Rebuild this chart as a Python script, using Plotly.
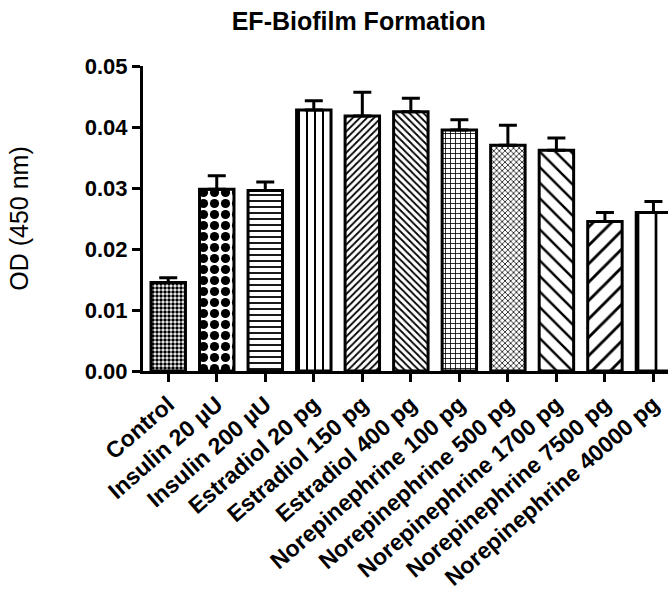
import plotly.graph_objects as go

categories = ["Control", "Insulin 20 µU", "Insulin 200 µU", "Estradiol 20 pg",
              "Estradiol 150 pg", "Estradiol 400 pg", "Norepinephrine 100 pg",
              "Norepinephrine 500 pg", "Norepinephrine 1700 pg",
              "Norepinephrine 7500 pg", "Norepinephrine 40000 pg"]
means = [0.0145, 0.0298, 0.0296, 0.0428, 0.0418, 0.0425, 0.0395, 0.0370, 0.0362, 0.0245, 0.0260]
sems = [0.0008, 0.0022, 0.0014, 0.0015, 0.0039, 0.0022, 0.0017, 0.0033, 0.0020, 0.0015, 0.0018]
y_ticks = [0.00, 0.01, 0.02, 0.03, 0.04, 0.05]

# styles
pat_shape = [".", ".", "-", "|", "/", "\\", "+", "x", "\\", "/", "|"]
pat_size = [4, 11, 6, 8, 5, 5, 5, 4, 11, 13, 18]
pat_solid = [0.6, 0.55, 0.3, 0.25, 0.35, 0.35, 0.3, 0.35, 0.22, 0.22, 0.15]

FONT = "Liberation Sans, Arial, sans-serif"

fig = go.Figure()
fig.add_trace(go.Bar(
    x=list(range(len(categories))),
    y=means,
    width=0.71,
    marker=dict(
        color="white",
        line=dict(color="black", width=3),
        pattern=dict(shape=pat_shape, size=pat_size, solidity=pat_solid,
                     fgcolor="black", fgopacity=1, bgcolor="white", fillmode="overlay"),
    ),
    error_y=dict(type="data", symmetric=False, array=sems,
                 arrayminus=[0] * len(sems), color="black", thickness=3, width=9),
    showlegend=False,
))

fig.update_layout(
    width=668, height=602,
    margin=dict(l=143, r=0, t=66, b=231),
    paper_bgcolor="white", plot_bgcolor="white",
    font=dict(family=FONT, color="black"),
    title=dict(text="<b>EF-Biofilm Formation</b>", font=dict(size=25, family=FONT),
               xref="paper", x=0.411, xanchor="center",
               yref="container", y=0.965, yanchor="middle"),
)
fig.update_xaxes(
    range=[-0.52, 10.3],
    tickmode="array", tickvals=list(range(len(categories))),
    ticktext=["<b>%s</b>" % c for c in categories],
    tickangle=-41, tickfont=dict(size=23, family=FONT),
    showline=True, linecolor="black", linewidth=3,
    ticks="outside", ticklen=8, tickwidth=3, tickcolor="black",
    showgrid=False, zeroline=False,
)
fig.update_yaxes(
    range=[0, 0.05],
    tickmode="array", tickvals=y_ticks,
    ticktext=["<b>%.2f</b>" % v for v in y_ticks],
    tickfont=dict(size=22, family=FONT),
    showline=True, linecolor="black", linewidth=3,
    ticks="outside", ticklen=8, tickwidth=3, tickcolor="black",
    showgrid=False, zeroline=False,
    title=dict(text="OD (450 nm)", font=dict(size=25, family=FONT), standoff=50),
)
fig.write_html("out.html", config={"displayModeBar": False},
               post_script="document.body.style.margin='0';document.body.style.overflow='hidden';")
